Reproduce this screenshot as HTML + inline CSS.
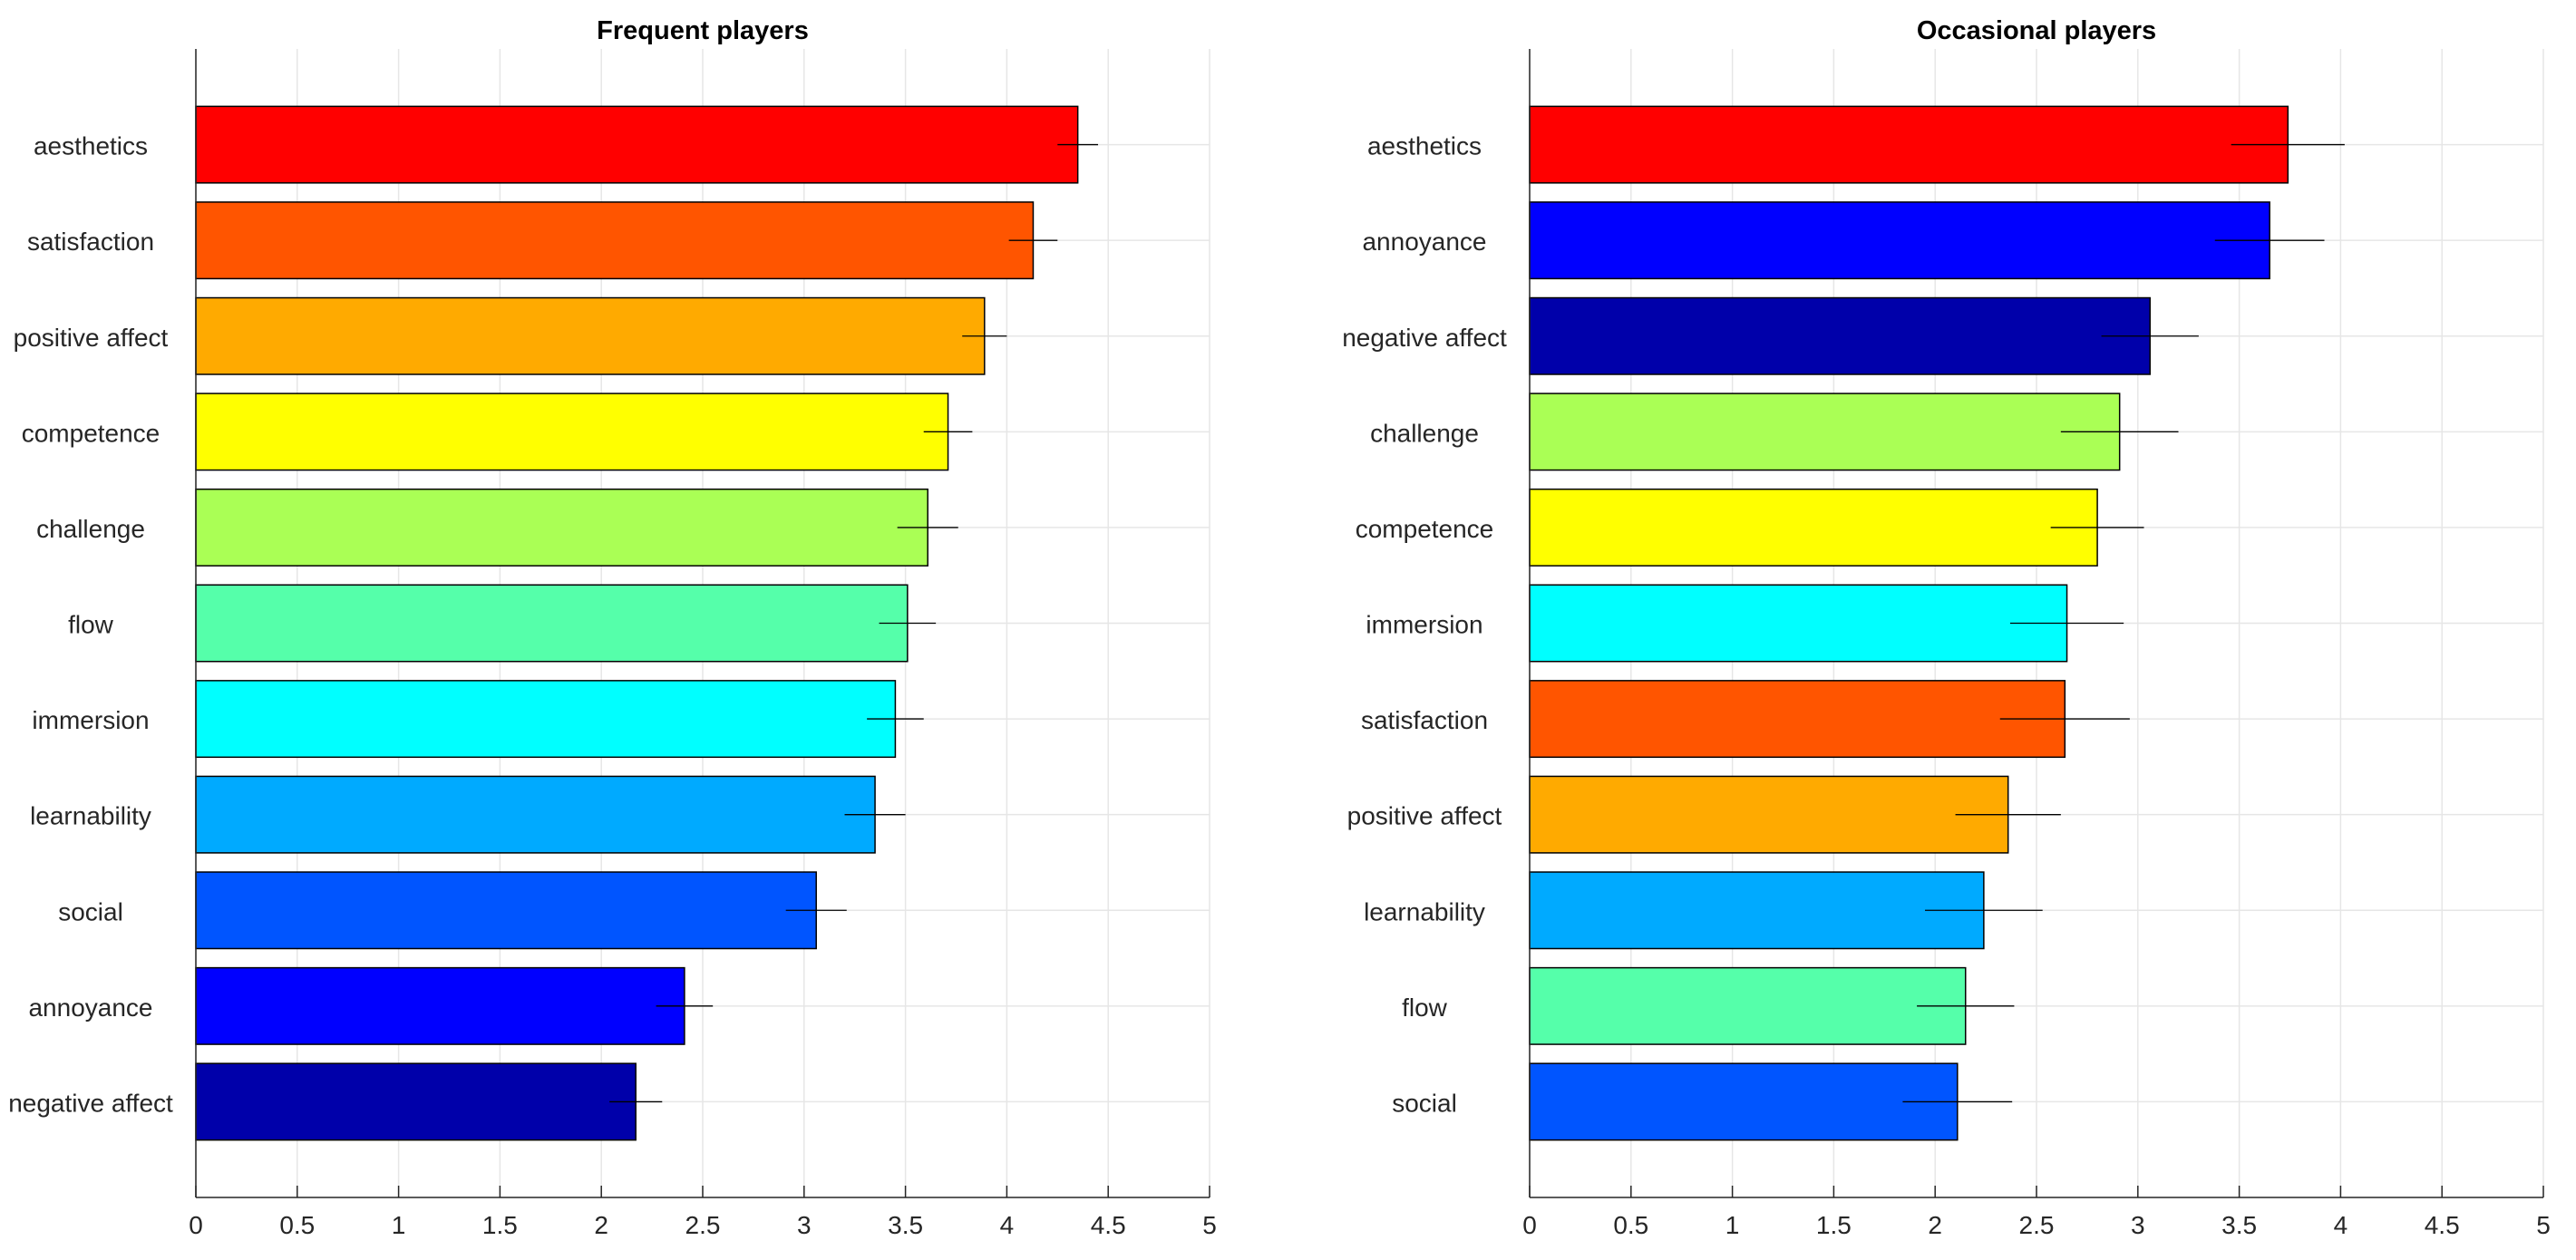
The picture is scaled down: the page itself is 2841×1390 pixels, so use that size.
<!DOCTYPE html>
<html><head><meta charset="utf-8"><style>
html,body{margin:0;padding:0;background:#fff;}
svg{display:block;font-family:"Liberation Sans",Arial,sans-serif;}
</style></head><body>
<svg id="chart" width="2841" height="1390" xmlns="http://www.w3.org/2000/svg"></svg>
<script>
const freqCategories = ["aesthetics","satisfaction","positive affect","competence","challenge","flow","immersion","learnability","social","annoyance","negative affect"];
const freqValues = [4.35,4.13,3.89,3.71,3.61,3.51,3.45,3.35,3.06,2.41,2.17];
const freqErrors = [0.10,0.12,0.11,0.12,0.15,0.14,0.14,0.15,0.15,0.14,0.13];
const occCategories = ["aesthetics","annoyance","negative affect","challenge","competence","immersion","satisfaction","positive affect","learnability","flow","social"];
const occValues = [3.74,3.65,3.06,2.91,2.80,2.65,2.64,2.36,2.24,2.15,2.11];
const occErrors = [0.28,0.27,0.24,0.29,0.23,0.28,0.32,0.26,0.29,0.24,0.27];
const xTicks = [0,0.5,1,1.5,2,2.5,3,3.5,4,4.5,5];
const xTickLabels = ["0","0.5","1","1.5","2","2.5","3","3.5","4","4.5","5"];
const colorMap = {"aesthetics":"#ff0000","satisfaction":"#ff5500","positive affect":"#ffaa00","competence":"#ffff00","challenge":"#aaff55","flow":"#55ffaa","immersion":"#00ffff","learnability":"#00aaff","social":"#0055ff","annoyance":"#0000ff","negative affect":"#0000aa"};

const NS="http://www.w3.org/2000/svg";
const svg=document.getElementById('chart');
function mk(tag,attrs,parent){const e=document.createElementNS(NS,tag);for(const k in attrs)e.setAttribute(k,attrs[k]);(parent||svg).appendChild(e);return e;}

function panel(key,title,x0,x1,cats,vals,errs){
  const top=54,bottom=1321,xmax=5,ymax=cats.length+1;
  const xs=v=>x0+(x1-x0)*v/xmax;
  const ys=i=>top+(bottom-top)*(i+1)/ymax;
  const band=(bottom-top)/ymax*0.8;
  const g=mk('g',{});
  
  
  xTicks.forEach(t=>{
    const l=mk('line',{x1:xs(t),x2:xs(t),y1:top,y2:bottom,stroke:'#e6e6e6','stroke-width':1.5},g);
    
    
  });
  cats.forEach((c,i)=>{
    const l=mk('line',{x1:x0,x2:x1,y1:ys(i),y2:ys(i),stroke:'#e6e6e6','stroke-width':1.5},g);
    
    
  });
  cats.forEach((c,i)=>{
    const r=mk('rect',{x:x0,y:ys(i)-band/2,width:xs(vals[i])-x0,height:band,fill:colorMap[c],stroke:'#000','stroke-width':1.5},g);
    
    
  });
  cats.forEach((c,i)=>{
    const e=mk('line',{x1:xs(vals[i]-errs[i]),x2:xs(vals[i]+errs[i]),y1:ys(i),y2:ys(i),stroke:'#000','stroke-width':1.3},g);
    
    
    const t=mk('text',{x:x0-116,y:ys(i)+11,'text-anchor':'middle','font-size':28,fill:'#262626'},g);
    t.textContent=c;
    
    
  });
  const ya=mk('line',{x1:x0,x2:x0,y1:top,y2:bottom,stroke:'#262626','stroke-width':1.5},g);
  
  
  const xa=mk('line',{x1:x0,x2:x1,y1:bottom,y2:bottom,stroke:'#262626','stroke-width':1.5},g);
  
  
  xTicks.forEach((t,k)=>{
    mk('line',{x1:xs(t),x2:xs(t),y1:bottom,y2:bottom-13,stroke:'#262626','stroke-width':1.5},g);
    const tl=mk('text',{x:xs(t),y:bottom+40,'text-anchor':'middle','font-size':28,fill:'#262626'},g);
    tl.textContent=xTickLabels[k];
    
    
  });
  const tt=mk('text',{x:(x0+x1)/2,y:43,'text-anchor':'middle','font-size':29,'font-weight':'bold',fill:'#000'},g);
  tt.textContent=title;
  
  
}
panel('frequent','Frequent players',216,1334,freqCategories,freqValues,freqErrors);
panel('occasional','Occasional players',1687,2805,occCategories,occValues,occErrors);
</script>
</body></html>
